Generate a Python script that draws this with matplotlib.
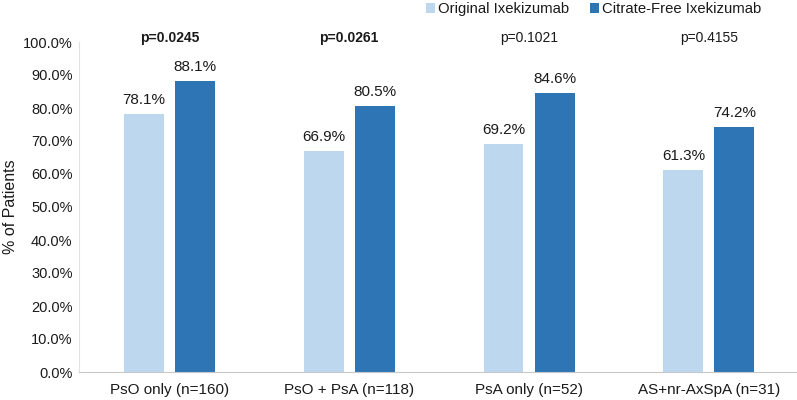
import matplotlib
matplotlib.use('Agg')
import matplotlib.pyplot as plt
import numpy as np

plt.rcParams['font.family'] = ['Liberation Sans', 'DejaVu Sans']

categories = ['PsO only (n=160)', 'PsO + PsA (n=118)', 'PsA only (n=52)', 'AS+nr-AxSpA (n=31)']
original = [78.1, 66.9, 69.2, 61.3]
citrate_free = [88.1, 80.5, 84.6, 74.2]
p_values = ['p=0.0245', 'p=0.0261', 'p=0.1021', 'p=0.4155']
p_bold = [True, True, False, False]

light = '#BDD7EE'
dark = '#2E75B6'
txt = '#1a1a1a'

fig = plt.figure(figsize=(7.97, 4.0), dpi=100)
ax = fig.add_axes([0.0997, 0.07, 0.9003, 0.825])

x = np.arange(len(categories))
w = 0.222
off = 0.142
b1 = ax.bar(x - off, original, w, color=light, label='Original Ixekizumab')
b2 = ax.bar(x + off, citrate_free, w, color=dark, label='Citrate-Free Ixekizumab')

for bars, vals in ((b1, original), (b2, citrate_free)):
    for bar, v in zip(bars, vals):
        ax.annotate(f'{v:.1f}%', (bar.get_x() + bar.get_width() / 2, v),
                    textcoords='offset points', xytext=(0, 5), ha='center', va='bottom',
                    fontsize=11, color=txt)

for i, (p, b) in enumerate(zip(p_values, p_bold)):
    ax.text(x[i], 101.3, p, ha='center', va='center', fontsize=10,
            fontweight='bold' if b else 'normal', color=txt, clip_on=False)

ax.set_xlim(-0.5, 3.49)
ax.set_ylim(0, 100)
ax.set_yticks(np.arange(0, 101, 10))
ax.set_yticklabels([f'{t:.1f}%' for t in np.arange(0, 101, 10)])
ax.set_xticks(x)
ax.set_xticklabels(categories)
ax.tick_params(axis='both', length=0, labelsize=10.5, colors=txt)
ax.tick_params(axis='x', pad=8, labelsize=11)
ax.tick_params(axis='y', pad=5)
ax.set_ylabel('% of Patients', fontsize=11.5, color=txt)
ax.yaxis.set_label_coords(-0.085, 0.5)

for s in ['top', 'right']:
    ax.spines[s].set_visible(False)
ax.spines['left'].set_color('#e0e0e0')
ax.spines['bottom'].set_color('#c8c8c8')

fig.legend(loc='upper right', bbox_to_anchor=(0.972, 1.028), ncol=2, frameon=False,
           fontsize=10.7, handlelength=0.6, handleheight=0.6, handletextpad=0.2,
           columnspacing=1.4, labelcolor=txt)

fig.savefig('out.png', dpi=100)
